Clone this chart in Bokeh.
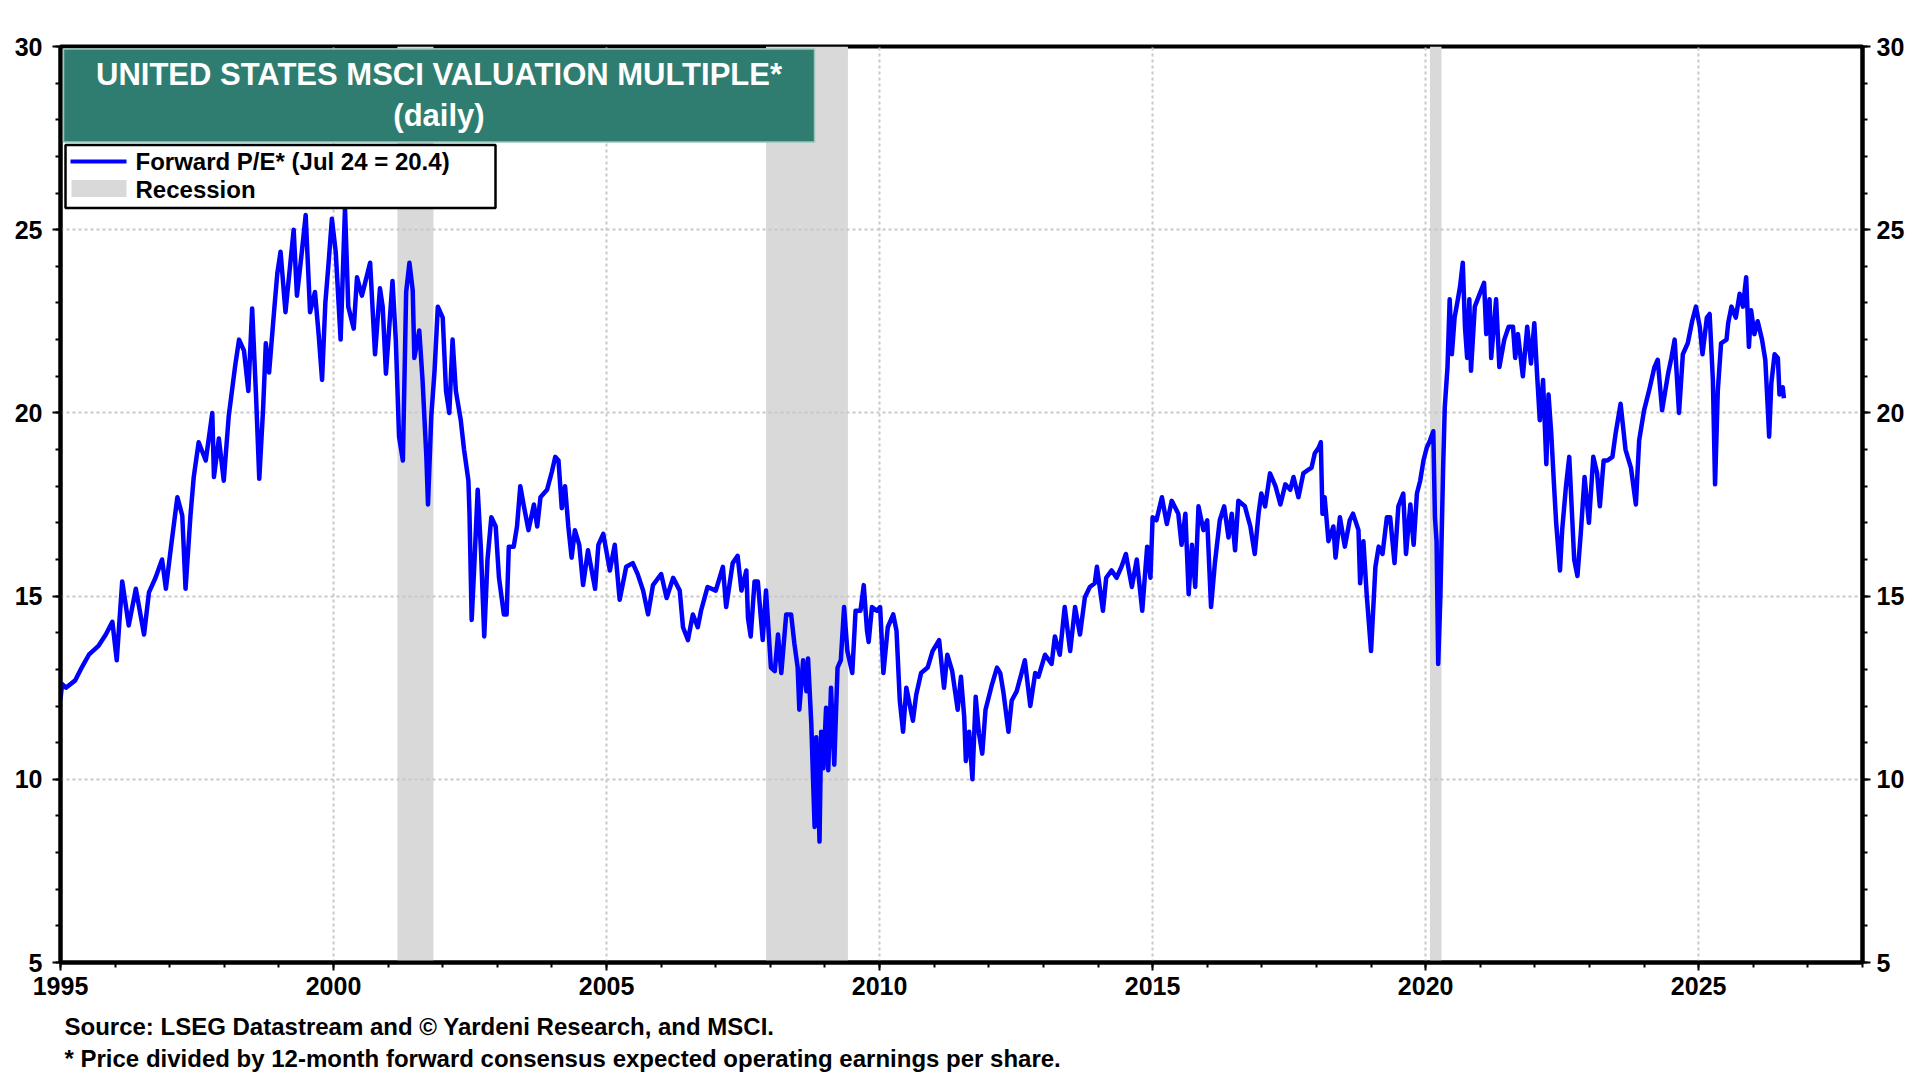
from bokeh.plotting import figure
from bokeh.layouts import column
from bokeh.models import Range1d, LinearAxis, FixedTicker, BoxAnnotation, Label
from bokeh.embed import file_html
from bokeh.resources import INLINE

# ---------------- data ----------------
years = [
    1995.00, 1995.03, 1995.10, 1995.27, 1995.37, 1995.52, 1995.70, 1995.83, 1995.95, 1996.03,
    1996.13, 1996.25, 1996.38, 1996.53, 1996.62, 1996.74, 1996.86, 1996.93, 1997.02, 1997.08,
    1997.14, 1997.23, 1997.29, 1997.38, 1997.44, 1997.53, 1997.66, 1997.78, 1997.81, 1997.90,
    1997.99, 1998.08, 1998.20, 1998.27, 1998.36, 1998.44, 1998.51, 1998.58, 1998.64, 1998.71,
    1998.76, 1998.82, 1998.91, 1998.97, 1999.03, 1999.12, 1999.21, 1999.27, 1999.33, 1999.42,
    1999.49, 1999.57, 1999.66, 1999.73, 1999.79, 1999.85, 1999.91, 1999.97, 2000.04, 2000.13,
    2000.21, 2000.27, 2000.37, 2000.43, 2000.52, 2000.67, 2000.76, 2000.85, 2000.90, 2000.96,
    2001.08, 2001.14, 2001.20, 2001.27, 2001.33, 2001.39, 2001.45, 2001.48, 2001.57, 2001.63,
    2001.70, 2001.73, 2001.79, 2001.85, 2001.91, 2002.00, 2002.06, 2002.12, 2002.18, 2002.24,
    2002.33, 2002.39, 2002.47, 2002.49, 2002.53, 2002.58, 2002.64, 2002.70, 2002.76, 2002.82,
    2002.89, 2002.97, 2003.03, 2003.12, 2003.17, 2003.21, 2003.30, 2003.36, 2003.42, 2003.48,
    2003.57, 2003.67, 2003.73, 2003.79, 2003.91, 2004.00, 2004.06, 2004.12, 2004.18, 2004.24,
    2004.30, 2004.36, 2004.42, 2004.50, 2004.57, 2004.66, 2004.79, 2004.85, 2004.94, 2005.06,
    2005.15, 2005.24, 2005.36, 2005.48, 2005.57, 2005.67, 2005.76, 2005.85, 2006.00, 2006.10,
    2006.22, 2006.34, 2006.40, 2006.49, 2006.58, 2006.67, 2006.73, 2006.85, 2007.00, 2007.13,
    2007.19, 2007.31, 2007.40, 2007.47, 2007.56, 2007.59, 2007.64, 2007.71, 2007.77, 2007.86,
    2007.92, 2008.01, 2008.08, 2008.14, 2008.20, 2008.29, 2008.38, 2008.44, 2008.50, 2008.53,
    2008.60, 2008.66, 2008.69, 2008.75, 2008.78, 2008.81, 2008.84, 2008.87, 2008.90, 2008.93,
    2008.97, 2009.02, 2009.06, 2009.11, 2009.17, 2009.23, 2009.29, 2009.35, 2009.41, 2009.50,
    2009.56, 2009.65, 2009.71, 2009.77, 2009.80, 2009.86, 2009.95, 2010.01, 2010.07, 2010.15,
    2010.25, 2010.31, 2010.37, 2010.43, 2010.49, 2010.55, 2010.61, 2010.67, 2010.76, 2010.88,
    2010.97, 2011.09, 2011.18, 2011.24, 2011.33, 2011.43, 2011.49, 2011.55, 2011.58, 2011.64,
    2011.70, 2011.76, 2011.82, 2011.88, 2011.94, 2012.06, 2012.15, 2012.21, 2012.27, 2012.36,
    2012.42, 2012.51, 2012.60, 2012.66, 2012.76, 2012.85, 2012.91, 2013.03, 2013.15, 2013.21,
    2013.30, 2013.39, 2013.49, 2013.58, 2013.67, 2013.76, 2013.85, 2013.94, 2013.98, 2014.09,
    2014.15, 2014.25, 2014.34, 2014.43, 2014.51, 2014.62, 2014.71, 2014.81, 2014.90, 2014.96,
    2015.00, 2015.07, 2015.17, 2015.26, 2015.35, 2015.47, 2015.53, 2015.60, 2015.66, 2015.72,
    2015.78, 2015.84, 2015.93, 2016.00, 2016.07, 2016.14, 2016.23, 2016.31, 2016.39, 2016.45,
    2016.51, 2016.57, 2016.69, 2016.79, 2016.87, 2016.94, 2016.99, 2017.06, 2017.15, 2017.25,
    2017.34, 2017.43, 2017.52, 2017.58, 2017.67, 2017.76, 2017.85, 2017.91, 2017.97, 2018.04,
    2018.08, 2018.11, 2018.15, 2018.22, 2018.31, 2018.35, 2018.43, 2018.52, 2018.61, 2018.67,
    2018.77, 2018.80, 2018.86, 2018.92, 2019.00, 2019.08, 2019.14, 2019.21, 2019.29, 2019.35,
    2019.43, 2019.50, 2019.59, 2019.64, 2019.72, 2019.78, 2019.84, 2019.90, 2019.96, 2020.02,
    2020.08, 2020.14, 2020.17, 2020.20, 2020.23, 2020.27, 2020.32, 2020.35, 2020.40, 2020.44,
    2020.48, 2020.53, 2020.59, 2020.63, 2020.68, 2020.72, 2020.76, 2020.80, 2020.83, 2020.90,
    2020.99, 2021.07, 2021.11, 2021.17, 2021.20, 2021.29, 2021.35, 2021.44, 2021.52, 2021.60,
    2021.64, 2021.69, 2021.78, 2021.86, 2021.93, 2021.99, 2022.04, 2022.09, 2022.15, 2022.21,
    2022.25, 2022.30, 2022.35, 2022.39, 2022.46, 2022.50, 2022.57, 2022.63, 2022.72, 2022.78,
    2022.84, 2022.91, 2022.99, 2023.07, 2023.14, 2023.19, 2023.26, 2023.33, 2023.42, 2023.48,
    2023.57, 2023.66, 2023.76, 2023.85, 2023.91, 2024.00, 2024.09, 2024.19, 2024.25, 2024.33,
    2024.44, 2024.50, 2024.56, 2024.64, 2024.71, 2024.80, 2024.88, 2024.95, 2025.02, 2025.07,
    2025.15, 2025.20, 2025.26, 2025.30, 2025.35, 2025.41, 2025.51, 2025.54, 2025.60, 2025.68,
    2025.75, 2025.81, 2025.87, 2025.92, 2025.96, 2026.02, 2026.08, 2026.16, 2026.22, 2026.27,
    2026.29, 2026.33, 2026.39, 2026.45, 2026.48, 2026.54, 2026.56,
]
forward_pe = [
    12.2, 12.6, 12.5, 12.7, 13.0, 13.4, 13.65, 13.95, 14.3, 13.25,
    15.4, 14.2, 15.2, 13.95, 15.1, 15.5, 16.0, 15.2, 16.3, 17.0,
    17.7, 17.2, 15.2, 17.2, 18.25, 19.2, 18.7, 20.0, 18.25, 19.3,
    18.15, 19.9, 21.3, 22.0, 21.7, 20.6, 22.85, 20.5, 18.2, 20.1,
    21.9, 21.1, 22.75, 23.8, 24.4, 22.75, 24.1, 25.0, 23.2, 24.4,
    25.4, 22.75, 23.3, 22.1, 20.9, 23.0, 24.1, 25.3, 24.4, 22.0,
    25.6, 22.9, 22.3, 23.7, 23.2, 24.1, 21.6, 23.4, 22.9, 21.07,
    23.6, 22.0, 19.35, 18.7, 23.3, 24.1, 23.35, 21.5, 22.25, 20.9,
    18.8, 17.5, 19.9, 21.15, 22.9, 22.6, 20.6, 20.0, 22.0, 20.6,
    19.8, 19.0, 18.15, 17.25, 14.35, 15.9, 17.9, 16.25, 13.9, 16.0,
    17.15, 16.9, 15.5, 14.5, 14.5, 16.35, 16.35, 16.9, 18.0, 17.5,
    16.8, 17.5, 16.9, 17.7, 17.9, 18.4, 18.8, 18.7, 17.4, 18.0,
    16.9, 16.05, 16.8, 16.4, 15.3, 16.25, 15.2, 16.4, 16.7, 15.7,
    16.4, 14.9, 15.8, 15.9, 15.6, 15.15, 14.5, 15.3, 15.6, 14.95,
    15.5, 15.15, 14.15, 13.8, 14.5, 14.15, 14.6, 15.25, 15.15, 15.8,
    14.7, 15.9, 16.1, 15.15, 15.7, 14.4, 13.9, 15.4, 15.4, 13.8,
    15.15, 13.05, 12.95, 13.95, 12.9, 14.5, 14.5, 13.7, 13.05, 11.9,
    13.25, 12.4, 13.3, 11.5, 10.05, 8.7, 11.15, 9.9, 8.3, 11.3,
    10.3, 11.95, 10.25, 12.5, 10.4, 13.05, 13.25, 14.7, 13.5, 12.9,
    14.6, 14.6, 15.3, 14.05, 13.75, 14.7, 14.6, 14.7, 12.9, 14.15,
    14.5, 14.05, 12.15, 11.3, 12.5, 12.05, 11.6, 12.3, 12.9, 13.05,
    13.5, 13.8, 12.5, 13.4, 12.95, 11.9, 12.8, 11.7, 10.5, 11.3,
    10.0, 12.25, 11.25, 10.7, 11.9, 12.6, 13.05, 12.9, 12.35, 11.3,
    12.15, 12.4, 12.9, 13.25, 12.0, 12.9, 12.8, 13.4, 13.15, 13.9,
    13.4, 14.7, 13.5, 14.7, 13.95, 14.97, 15.25, 15.35, 15.8, 14.6,
    15.5, 15.7, 15.5, 15.8, 16.15, 15.25, 16.0, 14.6, 16.35, 15.5,
    17.15, 17.07, 17.7, 16.97, 17.6, 17.25, 16.4, 17.25, 15.05, 16.4,
    15.25, 17.45, 16.8, 17.07, 14.7, 15.9, 17.07, 17.45, 16.6, 17.25,
    16.25, 17.6, 17.45, 16.9, 16.15, 17.25, 17.8, 17.45, 18.35, 18.0,
    17.5, 18.05, 17.9, 18.25, 17.7, 18.35, 18.45, 18.5, 18.9, 19.05,
    19.2, 17.25, 17.7, 16.5, 16.9, 16.05, 17.15, 16.35, 17.07, 17.25,
    16.8, 15.35, 16.5, 15.05, 13.5, 15.8, 16.35, 16.15, 17.15, 17.15,
    15.9, 17.45, 17.8, 16.15, 17.5, 16.4, 17.8, 18.15, 18.7, 19.05,
    19.25, 19.5, 17.15, 16.5, 13.15, 15.0, 18.5, 20.15, 21.25, 23.1,
    21.6, 22.6, 23.1, 23.45, 24.1, 22.35, 21.5, 23.1, 21.15, 22.9,
    23.25, 23.55, 22.15, 23.1, 21.5, 23.1, 21.25, 22.0, 22.35, 22.35,
    21.5, 22.15, 21.0, 22.35, 21.35, 22.45, 21.07, 19.8, 20.9, 18.6,
    20.5, 19.45, 18.05, 17.0, 15.7, 16.8, 18.0, 18.8, 16.0, 15.55,
    16.7, 18.25, 17.0, 18.8, 18.35, 17.45, 18.7, 18.7, 18.8, 19.45,
    20.25, 19.0, 18.5, 17.5, 19.25, 20.07, 20.6, 21.25, 21.45, 20.07,
    21.07, 21.5, 22.0, 20.0, 21.6, 21.9, 22.5, 22.9, 22.35, 21.6,
    22.6, 22.7, 20.9, 18.05, 20.6, 21.9, 22.0, 22.45, 22.9, 22.6,
    23.25, 22.9, 23.7, 21.8, 22.8, 22.15, 22.5, 22.0, 21.45, 20.0,
    19.35, 20.8, 21.6, 21.5, 20.5, 20.7, 20.4,
]

recession_start = [2001.17, 2007.92, 2020.08]
recession_end = [2001.83, 2009.42, 2020.29]

x_major_ticks = [1995, 2000, 2005, 2010, 2015, 2020, 2025]
x_minor_ticks = list(range(1995, 2029))
y_major_ticks = [5, 10, 15, 20, 25, 30]
y_minor_ticks = list(range(5, 31))

title_lines = ["UNITED STATES MSCI VALUATION MULTIPLE*", "(daily)"]
legend_labels = ["Forward P/E* (Jul 24 = 20.4)", "Recession"]
footnotes = [
    "Source: LSEG Datastream and \u00a9 Yardeni Research, and MSCI.",
    "* Price divided by 12-month forward consensus expected operating earnings per share.",
]

# ---------------- styling ----------------
FONT = "Liberation Sans"
LINE_BLUE = "#0000FF"
REC_GRAY = "#D9D9D9"
TEAL = "#2E7D70"
FRAME_W, FRAME_H = 1802, 916
FIG_W = 60 + FRAME_W + 46

p = figure(
    frame_width=FRAME_W, frame_height=FRAME_H,
    x_range=Range1d(1995, 2028), y_range=Range1d(5, 30),
    output_backend="svg", toolbar_location=None, title=None,
    min_border_left=60, min_border_right=46, min_border_top=46, min_border_bottom=50,
    background_fill_color="white", border_fill_color="white",
    outline_line_color="black", outline_line_width=4, outline_line_alpha=1.0,
)

# recession shading (under the grid)
for s, e in zip(recession_start, recession_end):
    p.add_layout(BoxAnnotation(left=s, right=e, fill_color=REC_GRAY, fill_alpha=1.0,
                               line_alpha=0, level="image"))

# grid
p.xgrid.ticker = FixedTicker(ticks=x_major_ticks)
p.ygrid.ticker = FixedTicker(ticks=y_major_ticks)
for g in (p.xgrid, p.ygrid):
    g.grid_line_color = "#C8C8C8"
    g.grid_line_dash = "3 3"
    g.grid_line_width = 2


def style_axis(ax, standoff):
    ax.axis_line_color = "black"
    ax.axis_line_width = 4
    ax.major_tick_in = 0
    ax.major_tick_out = 8
    ax.minor_tick_in = 0
    ax.minor_tick_out = 5
    ax.major_tick_line_width = 2
    ax.minor_tick_line_width = 2
    ax.major_tick_line_color = "black"
    ax.minor_tick_line_color = "black"
    ax.major_label_text_font = FONT
    ax.major_label_text_font_size = "25px"
    ax.major_label_text_font_style = "bold"
    ax.major_label_text_color = "black"
    ax.major_label_standoff = standoff


p.xaxis.ticker = FixedTicker(ticks=x_major_ticks, minor_ticks=x_minor_ticks)
p.yaxis.ticker = FixedTicker(ticks=y_major_ticks, minor_ticks=y_minor_ticks)
style_axis(p.xaxis[0], 6)
style_axis(p.yaxis[0], 10)

right_axis = LinearAxis(ticker=FixedTicker(ticks=y_major_ticks, minor_ticks=y_minor_ticks))
style_axis(right_axis, 6)
p.add_layout(right_axis, "right")

# the series
p.line(years, forward_pe, line_color=LINE_BLUE, line_width=4.5, line_join="round")


def screen_box(left, right, top, bottom, **kw):
    return BoxAnnotation(left=left, right=right, top=top, bottom=bottom,
                         left_units="screen", right_units="screen",
                         top_units="screen", bottom_units="screen", **kw)


# title box (screen units, relative to the plot frame, y measured up from frame bottom)
p.add_layout(screen_box(3, 754, FRAME_H - 2.5, FRAME_H - 95.5,
                        fill_color=TEAL, fill_alpha=1.0,
                        line_color="#9CC5BD", line_alpha=1.0, line_width=1.5))
for txt, off in zip(title_lines, [28, 69]):
    p.add_layout(Label(x=378.5, y=FRAME_H - off, x_units="screen", y_units="screen",
                       text=txt, text_align="center", text_baseline="middle",
                       text_font=FONT, text_font_size="31px", text_font_style="bold",
                       text_color="white"))

# legend box
p.add_layout(screen_box(5, 435, FRAME_H - 98.5, FRAME_H - 161.5,
                        fill_color="white", fill_alpha=1.0,
                        line_color="black", line_alpha=1.0, line_width=2.5))
p.add_layout(screen_box(10, 66, FRAME_H - 113, FRAME_H - 117,
                        fill_color=LINE_BLUE, fill_alpha=1.0, line_alpha=0))
p.add_layout(screen_box(11, 66, FRAME_H - 133.5, FRAME_H - 150.5,
                        fill_color=REC_GRAY, fill_alpha=1.0, line_alpha=0))
for txt, off in zip(legend_labels, [115, 142.5]):
    p.add_layout(Label(x=75, y=FRAME_H - off, x_units="screen", y_units="screen",
                       text=txt, text_align="left", text_baseline="middle",
                       text_font=FONT, text_font_size="24px", text_font_style="bold",
                       text_color="black"))

# footnotes in a strip below the chart (its frame is aligned with the chart frame)
NOTE_H = 64
notes = figure(width=FIG_W, height=NOTE_H, x_range=Range1d(0, 1), y_range=Range1d(0, 1),
               output_backend="svg", toolbar_location=None, title=None,
               x_axis_type=None, y_axis_type=None, min_border=0,
               outline_line_color=None, background_fill_color="white",
               border_fill_color="white")
for txt, yy in zip(footnotes, [50.5, 18]):
    notes.add_layout(Label(x=4, y=yy, x_units="screen", y_units="screen",
                           text=txt, text_align="left", text_baseline="middle",
                           text_font=FONT, text_font_size="24px", text_font_style="bold",
                           text_color="black"))

layout = column(p, notes, spacing=0)
open("out.html", "w").write(file_html(layout, INLINE))
